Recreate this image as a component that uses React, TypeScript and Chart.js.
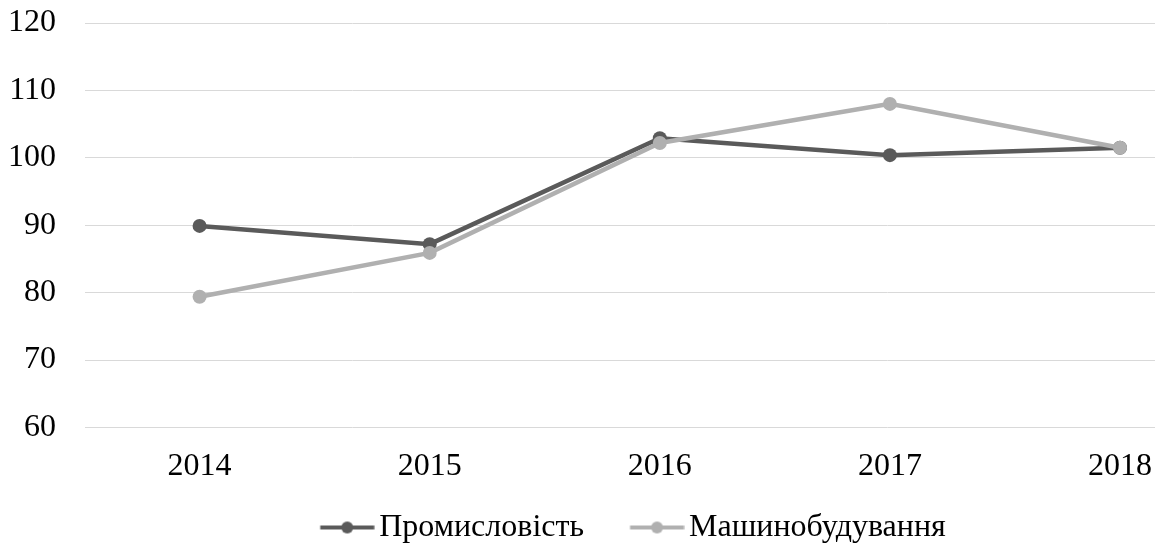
import React, { useEffect, useRef } from "react";
import { Chart, registerables } from "chart.js";

Chart.register(...registerables);

const years = [2014, 2015, 2016, 2017, 2018];
const promyslovist = [89.9, 87.2, 102.9, 100.4, 101.5];
const mashynobuduvannia = [79.4, 85.9, 102.2, 108.0, 101.5];
const seriesNames = ["Промисловість", "Машинобудування"];
const yTicks = [60, 70, 80, 90, 100, 110, 120];

const DARK = "#5a5a5a";
const LIGHT = "#b0b0b0";
const FONT = "'Liberation Serif', 'Times New Roman', serif";

// legend symbol: line with a dot, drawn into a wider transparent image
function legendImage(color: string) {
  const c = document.createElement("canvas");
  c.width = 92;
  c.height = 14;
  const ctx = c.getContext("2d")!;
  ctx.strokeStyle = color;
  ctx.lineWidth = 4;
  ctx.beginPath();
  ctx.moveTo(37.5, 7);
  ctx.lineTo(91.5, 7);
  ctx.stroke();
  ctx.fillStyle = color;
  ctx.beginPath();
  ctx.arc(64.5, 7, 6, 0, Math.PI * 2);
  ctx.fill();
  return c;
}

export default function App() {
  const ref = useRef<HTMLCanvasElement>(null);
  useEffect(() => {
    document.body.style.margin = "0";
    const imgs = [legendImage(DARK), legendImage(LIGHT)];
    const chart = new Chart(ref.current!, {
      type: "line",
      data: {
        datasets: [
          {
            label: seriesNames[0],
            data: years.map((y, i) => ({ x: y, y: promyslovist[i] })),
            borderColor: DARK,
            backgroundColor: DARK,
            borderWidth: 4.5,
            pointRadius: 7,
            pointBorderWidth: 0,
            pointHoverRadius: 7,
            order: 1,
          },
          {
            label: seriesNames[1],
            data: years.map((y, i) => ({ x: y, y: mashynobuduvannia[i] })),
            borderColor: LIGHT,
            backgroundColor: LIGHT,
            borderWidth: 4.5,
            pointRadius: 7,
            pointBorderWidth: 0,
            pointHoverRadius: 7,
            order: 0,
          },
        ],
      },
      options: {
        animation: false,
        responsive: false,
        maintainAspectRatio: false,
        layout: { padding: { left: 10, right: 3, top: 23, bottom: -9.5 } },
        scales: {
          x: {
            type: "linear",
            min: 2013.502,
            max: 2018.152,
            afterBuildTicks: (axis: any) => {
              axis.ticks = years.map((v) => ({ value: v }));
            },
            afterFit: (axis: any) => {
              axis.height = 64;
              axis.paddingLeft = 0;
              axis.paddingRight = 0;
            },
            ticks: {
              callback: (v: any) => String(v),
              font: { family: FONT, size: 32 },
              color: "#000",
              padding: 20,
              maxRotation: 0,
              autoSkip: false,
            },
            grid: { display: false, drawTicks: false },
            border: { display: false },
          },
          y: {
            min: 60,
            max: 120,
            afterBuildTicks: (axis: any) => {
              axis.ticks = yTicks.map((v) => ({ value: v }));
            },
            afterFit: (axis: any) => {
              axis.width = 75;
              axis.paddingTop = 0;
              axis.paddingBottom = 0;
            },
            ticks: {
              font: { family: FONT, size: 32 },
              color: "#000",
              padding: 29,
            },
            grid: { color: "#d9d9d9", lineWidth: 1, drawTicks: false },
            border: { display: false },
          },
        },
        plugins: {
          tooltip: { enabled: false },
          legend: {
            position: "bottom",
            fullSize: false,
            labels: {
              usePointStyle: true,
              pointStyleWidth: 69,
              padding: 20,
              font: { family: FONT, size: 32 },
              color: "#000",
              generateLabels: () =>
                seriesNames.map((n, i) => ({
                  text: n,
                  datasetIndex: i,
                  pointStyle: imgs[i] as any,
                  fillStyle: i === 0 ? DARK : LIGHT,
                  strokeStyle: i === 0 ? DARK : LIGHT,
                  lineWidth: 0,
                  hidden: false,
                  fontColor: "#000",
                })),
            },
          },
        },
      },
    });
    return () => chart.destroy();
  }, []);
  return <canvas ref={ref} width={1162} height={544} style={{ display: "block" }} />;
}
